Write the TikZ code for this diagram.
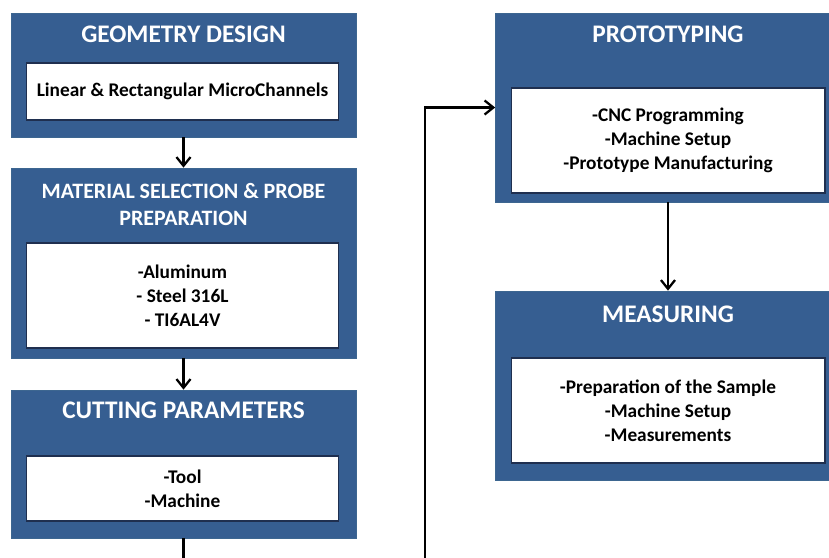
\documentclass[tikz,border=0pt]{standalone}
\usepackage{fontspec}
\setmainfont{Carlito}
\usepackage{xcolor}
\usetikzlibrary{arrows.meta}
\definecolor{stageblue}{HTML}{365E91}
\definecolor{stageedge}{HTML}{3D6690}
\definecolor{inneredge}{HTML}{1F2F4F}

\begin{document}
\begin{tikzpicture}[x=0.02cm, y=-0.02cm,
          stage/.style={rectangle, draw=stageedge, fill=stageblue,
                        line width=0.4pt, minimum width=6.9cm},
          inbox/.style={rectangle, draw=inneredge, fill=white,
                        line width=0.6pt, minimum width=6.26cm, align=center,
                        font=\fontsize{11}{13.6}\selectfont\bfseries},
          title/.style={text=white, anchor=north, inner sep=0pt, align=center,
                        font=\fontsize{14.4}{15.3}\selectfont\bfseries},
          arr/.style={-{Straight Barb[length=5pt, width=8pt]}, line width=1.3pt, black}
        ]
        \fill[white] (0,0) rectangle (829,558);
        \useasboundingbox (0,0) rectangle (829,558);
        \clip (0,0) rectangle (829,558);
        %% Left column
        \node[stage, minimum height=2.48cm] (geo) at (183.5,75) {};
        \node[title] (geot) at ([yshift=-0.26cm]geo.north) {GEOMETRY DESIGN};
        \node[inbox, minimum height=1.14cm] (geoin) at (182.5,91.5)
              {Linear \& Rectangular MicroChannels};
        \node[stage, minimum height=3.8cm] (mat) at (183.5,263) {};
        \node[title, font=\fontsize{12.5}{15.3}\selectfont\bfseries] (matt)
              at ([yshift=-0.3cm]mat.north)
              {MATERIAL SELECTION \& PROBE\\PREPARATION};
        \node[inbox, minimum height=2.1cm] (matin) at (182.5,295.5)
              {-Aluminum\\- Steel 316L\\- TI6AL4V};
        \node[stage, minimum height=2.96cm] (cut) at (183.5,464) {};
        \node[title] (cutt) at ([yshift=-0.24cm]cut.north) {CUTTING PARAMETERS};
        \node[inbox, minimum height=1.3cm] (cutin) at (182.5,488.5)
              {-Tool\\-Machine};
        %% Right column
        \node[stage, minimum height=3.78cm] (proto) at (668,107.5) {};
        \node[title] (protot) at ([yshift=-0.26cm]proto.north) {PROTOTYPING};
        \node[inbox, minimum width=6.28cm, minimum height=2.1cm] (protoin) at (668,140.5)
              {-CNC Programming\\-Machine Setup\\-Prototype Manufacturing};
        \node[stage, minimum height=3.78cm] (meas) at (668,385.5) {};
        \node[title] (meast) at ([yshift=-0.3cm]meas.north) {MEASURING};
        \node[inbox, minimum width=6.28cm, minimum height=2.1cm] (measin) at (668,410.5)
              {-Preparation of the Sample\\-Machine Setup\\-Measurements};
        %% Connectors
        \coordinate (loopbot) at (425,600);
        \draw[arr] (geo) -- (mat);
        \draw[arr] (mat) -- (cut);
        \draw[arr] (cut.south) |- (loopbot) |- (proto.west);
        \draw[arr] (proto) -- (meas);
      \end{tikzpicture}
\end{document}
